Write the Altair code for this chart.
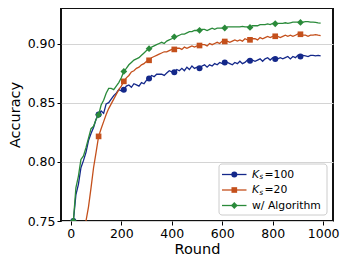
import altair as alt
import pandas as pd

rounds = list(range(10, 1000, 10))
marker_rounds = list(range(10, 1000, 100))

ks100 = [
    0.750, 0.772, 0.781, 0.795, 0.801, 0.808, 0.818, 0.824, 0.829, 0.836,
    0.840, 0.843, 0.841, 0.849, 0.850, 0.853, 0.856, 0.858, 0.861, 0.860,
    0.861, 0.864, 0.865, 0.863, 0.866, 0.865, 0.864, 0.867, 0.866, 0.869,
    0.8705, 0.873, 0.872, 0.874, 0.874, 0.874, 0.873, 0.875, 0.877, 0.876,
    0.8758, 0.878, 0.877, 0.879, 0.877, 0.880, 0.878, 0.881, 0.879, 0.880,
    0.879, 0.881, 0.882, 0.880, 0.882, 0.881, 0.883, 0.882, 0.884, 0.883,
    0.884, 0.884, 0.883, 0.882, 0.884, 0.883, 0.885, 0.883, 0.884, 0.886,
    0.8855, 0.886, 0.885, 0.886, 0.887, 0.885, 0.887, 0.888, 0.886, 0.888,
    0.887, 0.887, 0.888, 0.887, 0.888, 0.889, 0.887, 0.889, 0.888, 0.890,
    0.889, 0.890, 0.8895, 0.889, 0.890, 0.890, 0.8895, 0.890, 0.8895,
]
ks20 = [
    0.600, 0.640, 0.680, 0.710, 0.735, 0.750, 0.762, 0.778, 0.795, 0.808,
    0.8215, 0.828, 0.834, 0.840, 0.845, 0.849, 0.853, 0.857, 0.861, 0.864,
    0.868, 0.871, 0.873, 0.876, 0.877, 0.879, 0.880, 0.882, 0.883, 0.885,
    0.8858, 0.888, 0.889, 0.890, 0.891, 0.892, 0.893, 0.893, 0.894, 0.895,
    0.895, 0.896, 0.896, 0.895, 0.897, 0.896, 0.897, 0.898, 0.897, 0.898,
    0.8983, 0.899, 0.899, 0.898, 0.900, 0.899, 0.900, 0.901, 0.900, 0.902,
    0.9017, 0.902, 0.901, 0.902, 0.903, 0.902, 0.903, 0.902, 0.904, 0.903,
    0.9031, 0.904, 0.904, 0.903, 0.905, 0.904, 0.905, 0.906, 0.905, 0.906,
    0.9061, 0.906, 0.905, 0.906, 0.907, 0.906, 0.907, 0.906, 0.907, 0.908,
    0.9078, 0.907, 0.907, 0.906, 0.907, 0.907, 0.9075, 0.907, 0.9067,
]
algo = [
    0.750, 0.778, 0.788, 0.802, 0.805, 0.812, 0.820, 0.828, 0.830, 0.836,
    0.8397, 0.848, 0.852, 0.858, 0.862, 0.862, 0.861, 0.864, 0.867, 0.871,
    0.8764, 0.879, 0.882, 0.884, 0.886, 0.887, 0.888, 0.890, 0.892, 0.894,
    0.8956, 0.897, 0.898, 0.899, 0.900, 0.901, 0.900, 0.902, 0.903, 0.904,
    0.9056, 0.906, 0.907, 0.908, 0.908, 0.909, 0.910, 0.910, 0.911, 0.911,
    0.9111, 0.912, 0.912, 0.911, 0.912, 0.913, 0.912, 0.913, 0.913, 0.913,
    0.9131, 0.914, 0.914, 0.914, 0.914, 0.914, 0.914, 0.9145, 0.914, 0.914,
    0.9136, 0.915, 0.915, 0.915, 0.916, 0.916, 0.916, 0.9165, 0.916, 0.917,
    0.9167, 0.917, 0.917, 0.917, 0.9175, 0.917, 0.9175, 0.918, 0.918, 0.918,
    0.9178, 0.918, 0.9185, 0.9185, 0.918, 0.918, 0.9178, 0.9175, 0.9173,
]

series_values = [ks100, ks20, algo]
subscript_labels = ["100", "20", None]
plain_label = "w/ Algorithm"
colors = ["#14288a", "#c4501c", "#2a8a3a"]
shapes = ["circle", "square", "diamond"]
sizes = [36, 32, 46]

x_ticks = [0, 200, 400, 600, 800, 1000]
y_ticks = [0.75, 0.80, 0.85, 0.90]

FONT = "DejaVu Sans"

xscale = alt.Scale(domain=[-39, 1039], nice=False, zero=False)
yscale = alt.Scale(domain=[0.75, 0.93], nice=False, zero=False)

xaxis = alt.Axis(values=x_ticks, format="d", grid=False, domain=False, tickSize=4,
                 tickColor="black", tickWidth=1, labelFontSize=12.5, labelColor="black",
                 labelFont=FONT, labelPadding=2, title="Round", titleFont=FONT,
                 titleFontSize=14.5, titleFontWeight="normal", titleColor="black",
                 titlePadding=3, labelFlush=False)
yaxis = alt.Axis(values=y_ticks, format=".2f", grid=True, gridColor="#d4d4d4", gridWidth=1,
                 domain=False, tickSize=4, tickColor="black", tickWidth=1,
                 labelFontSize=12.5, labelColor="black", labelFont=FONT, labelPadding=2,
                 title="Accuracy", titleFont=FONT, titleFontSize=14.5,
                 titleFontWeight="normal", titleColor="black", titlePadding=5,
                 labelFlush=False)

layers = []
for vals, col, shp, sz in zip(series_values, colors, shapes, sizes):
    df = pd.DataFrame({"round": rounds, "acc": vals})
    dfm = df[df["round"].isin(marker_rounds)]
    line = alt.Chart(df).mark_line(color=col, strokeWidth=1.3, clip=True).encode(
        x=alt.X("round:Q", scale=xscale, axis=xaxis),
        y=alt.Y("acc:Q", scale=yscale, axis=yaxis),
    )
    pts = alt.Chart(dfm).mark_point(shape=shp, filled=True, size=sz, color=col,
                                    opacity=1, clip=True).encode(
        x=alt.X("round:Q", scale=xscale, axis=xaxis),
        y=alt.Y("acc:Q", scale=yscale, axis=yaxis),
    )
    layers += [line, pts]

# manual legend (matplotlib style)
one = pd.DataFrame({"k": [0]})
box = alt.Chart(one).mark_rect(fill="white", fillOpacity=0.85, stroke="#cccccc",
                               strokeWidth=1, cornerRadius=3).encode(
    x=alt.value(158), x2=alt.value(266), y=alt.value(156), y2=alt.value(207))
layers.append(box)

row_y = [166.5, 182.0, 197.5]
for i, (col, shp, sz) in enumerate(zip(colors, shapes, sizes)):
    yy = row_y[i]
    layers.append(alt.Chart(one).mark_rule(color=col, strokeWidth=1.3).encode(
        x=alt.value(161), x2=alt.value(185.5), y=alt.value(yy)))
    layers.append(alt.Chart(one).mark_point(shape=shp, filled=True, size=sz, color=col,
                                            opacity=1).encode(
        x=alt.value(173.3), y=alt.value(yy)))
    sub = subscript_labels[i]
    if sub is not None:
        layers.append(alt.Chart(one).mark_text(text="K", fontStyle="italic", font=FONT,
                                               fontSize=10.8, align="left", baseline="middle",
                                               color="black").encode(
            x=alt.value(191), y=alt.value(yy)))
        layers.append(alt.Chart(one).mark_text(text="s", fontStyle="italic", font=FONT,
                                               fontSize=7.6, align="left", baseline="middle",
                                               color="black").encode(
            x=alt.value(198.2), y=alt.value(yy + 2.6)))
        layers.append(alt.Chart(one).mark_text(text="=" + sub, font=FONT,
                                               fontSize=10.8, align="left", baseline="middle",
                                               color="black").encode(
            x=alt.value(203.5), y=alt.value(yy)))
    else:
        layers.append(alt.Chart(one).mark_text(text=plain_label, font=FONT,
                                               fontSize=10.8, align="left", baseline="middle",
                                               color="black").encode(
            x=alt.value(191), y=alt.value(yy)))

chart = alt.layer(*layers).properties(
    width=272, height=213,
    autosize=alt.AutoSizeParams(type="none"),
    padding={"left": 53, "top": 0, "right": 7, "bottom": 35},
    background="white",
).configure_view(stroke="#111111", strokeWidth=2)

chart.save("out.html", embed_options={"renderer": "svg", "actions": False})
